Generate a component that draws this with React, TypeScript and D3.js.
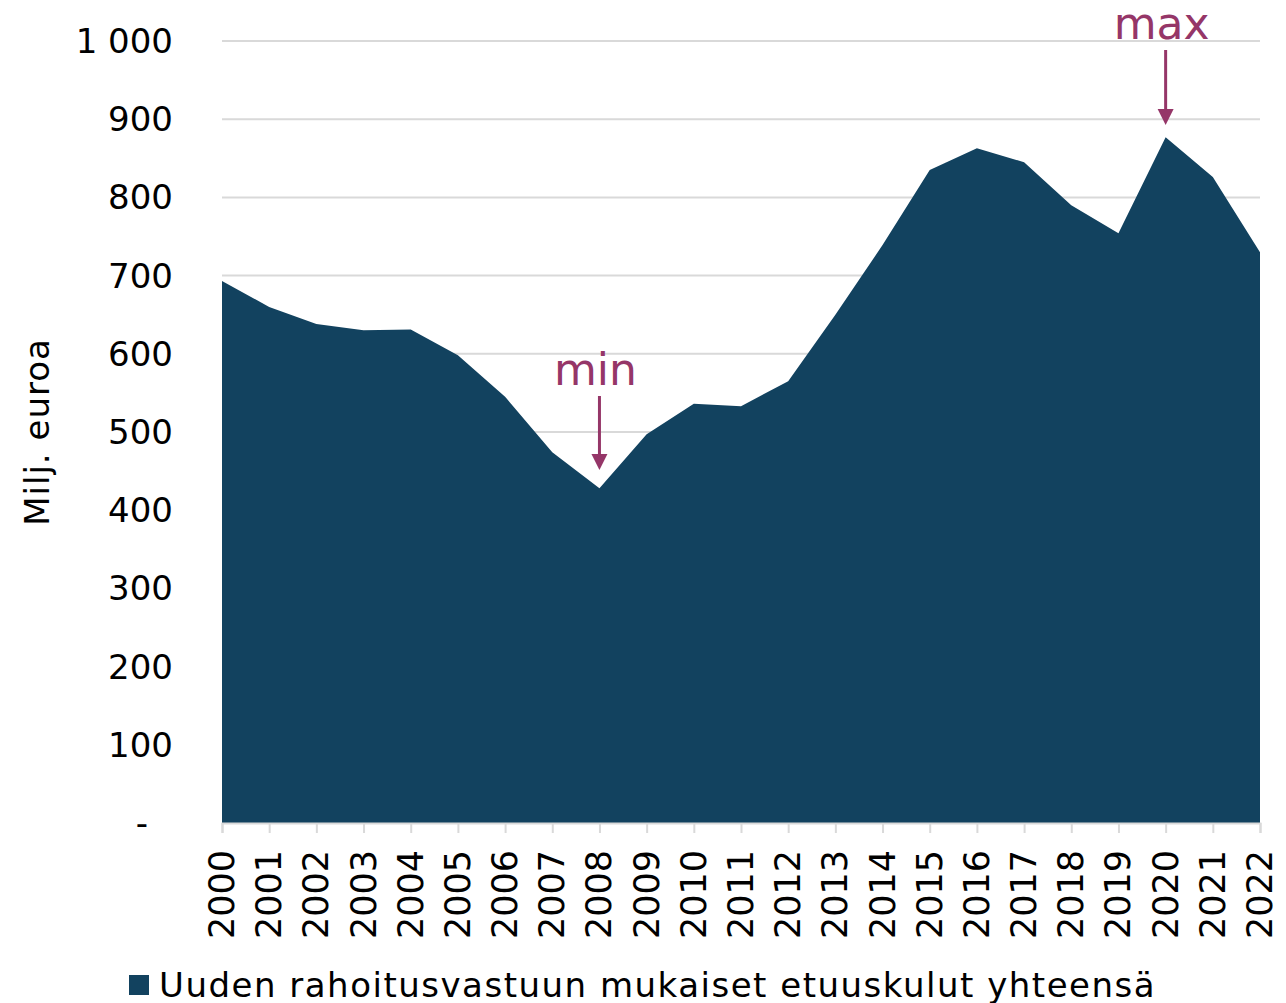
import React, { useEffect, useRef } from "react";
import * as d3 from "d3";

const years = [2000, 2001, 2002, 2003, 2004, 2005, 2006, 2007, 2008, 2009, 2010, 2011,
  2012, 2013, 2014, 2015, 2016, 2017, 2018, 2019, 2020, 2021, 2022];
const costs = [693, 660, 638, 630, 631, 598, 545, 474, 428, 497, 536, 533,
  565, 650, 739, 835, 863, 845, 790, 754, 877, 826, 730];
const yTicks = [0, 100, 200, 300, 400, 500, 600, 700, 800, 900, 1000];
const seriesName = "Uuden rahoitusvastuun mukaiset etuuskulut yhteensä";
const yTitle = "Milj. euroa";

const W = 1286;
const H = 1003;
const m = { top: 41, right: 26, bottom: 180, left: 222 };
const fill = "#12425f";
const accent = "#953668";

export default function App() {
  const ref = useRef<SVGSVGElement>(null);

  useEffect(() => {
    const svg = d3.select(ref.current);
    svg.selectAll("*").remove();
    const iw = W - m.left - m.right;
    const ih = H - m.top - m.bottom;

    const x = d3.scaleLinear().domain([2000, 2022]).range([0, iw]);
    const y = d3.scaleLinear().domain([0, 1000]).range([ih, 0]);

    const g = svg.append("g").attr("transform", `translate(${m.left},${m.top})`);

    // grid
    g.selectAll("line.grid")
      .data(yTicks.filter(t => t > 0))
      .enter()
      .append("line")
      .attr("x1", 0)
      .attr("x2", iw)
      .attr("y1", d => y(d))
      .attr("y2", d => y(d))
      .attr("stroke", "#d9d9d9")
      .attr("stroke-width", 2);

    const area = d3.area<number>()
      .x((d, i) => x(years[i]))
      .y0(y(0))
      .y1(d => y(d));

    g.append("path").datum(costs).attr("d", area).attr("fill", fill);

    // y labels
    g.selectAll("text.ylab")
      .data(yTicks)
      .enter()
      .append("text")
      .attr("x", d => d === 0 ? -74 : -49)
      .attr("y", d => y(d) + 12)
      .attr("text-anchor", "end")
      .attr("font-family", "DejaVu Sans, sans-serif")
      .attr("font-size", 34)
      .attr("fill", "#000")
      .text(d => d === 0 ? "-" : d3.format(",")(d).replace(",", "\u00a0"));

    // x axis
    const xAxis = d3.axisBottom(x).tickValues(years).tickSize(10).tickFormat(() => "");
    const ax = g.append("g").attr("transform", `translate(0,${ih})`).call(xAxis);
    ax.select(".domain").attr("stroke", "#d9d9d9").attr("stroke-width", 2);
    ax.selectAll(".tick line").attr("stroke", "#d9d9d9").attr("stroke-width", 2);

    g.selectAll("text.xlab")
      .data(years)
      .enter()
      .append("text")
      .attr("transform", d => `translate(${x(d) + 12},${ih + 27}) rotate(-90)`)
      .attr("text-anchor", "end")
      .attr("font-family", "DejaVu Sans, sans-serif")
      .attr("font-size", 35)
      .attr("fill", "#000")
      .text(d => String(d));

    // y title
    svg.append("text")
      .attr("transform", `translate(49,432) rotate(-90)`)
      .attr("text-anchor", "middle")
      .attr("font-family", "DejaVu Sans, sans-serif")
      .attr("font-size", 34)
      .attr("letter-spacing", 1)
      .attr("fill", "#000")
      .text(yTitle);

    // annotations
    const notes = [
      { label: "min", year: 2008, top: 396 - m.top, tip: 470 - m.top, ty: 385 - m.top },
      { label: "max", year: 2020, top: 50 - m.top, tip: 125 - m.top, ty: 39 - m.top },
    ];
    notes.forEach(n => {
      const cx = x(n.year);
      g.append("text")
        .attr("x", cx - 4)
        .attr("y", n.ty)
        .attr("text-anchor", "middle")
        .attr("font-family", "DejaVu Sans, sans-serif")
        .attr("font-size", 44)
        .attr("fill", accent)
        .text(n.label);
      g.append("line")
        .attr("x1", cx).attr("x2", cx)
        .attr("y1", n.top).attr("y2", n.tip - 12)
        .attr("stroke", accent).attr("stroke-width", 3);
      g.append("path")
        .attr("d", `M${cx - 8},${n.tip - 16} L${cx + 8},${n.tip - 16} L${cx},${n.tip} Z`)
        .attr("fill", accent);
    });

    // legend
    svg.append("rect").attr("x", 129).attr("y", 975).attr("width", 20).attr("height", 20).attr("fill", fill);
    svg.append("text")
      .attr("x", 159)
      .attr("y", 997)
      .attr("font-family", "DejaVu Sans, sans-serif")
      .attr("font-size", 34)
      .attr("letter-spacing", 1.5)
      .attr("fill", "#000")
      .text(seriesName);
  }, []);

  return (
    <svg ref={ref} width={W} height={H}
      style={{ position: "absolute", left: 0, top: 0, background: "#fff" }} />
  );
}
